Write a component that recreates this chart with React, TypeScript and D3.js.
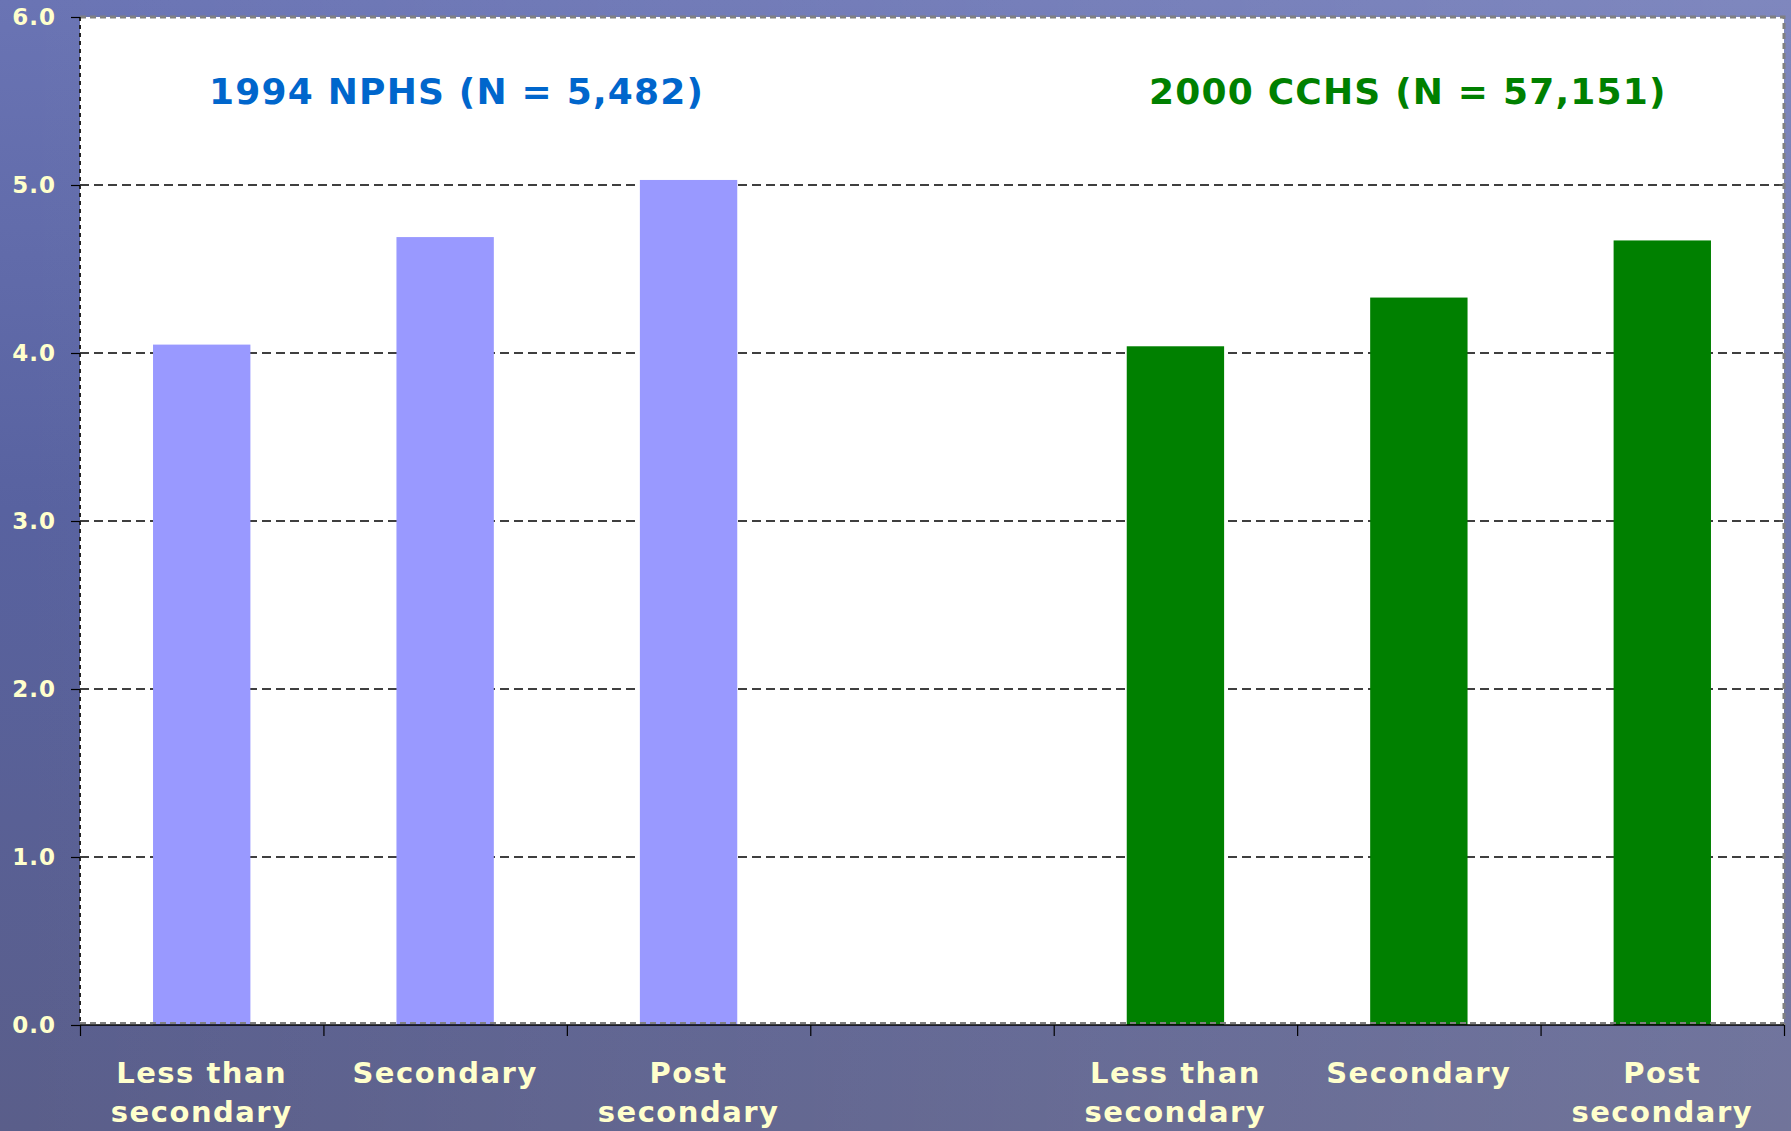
import React, { useEffect, useRef } from 'react';
import * as d3 from 'd3';

// Education levels (x categories), one group per survey
const educationLevels = ['Less than\nsecondary', 'Secondary', 'Post\nsecondary'];

// Mean values
const nphs1994 = [4.05, 4.69, 5.03];
const cchs2000 = [4.04, 4.33, 4.67];

const yTicks = [0, 1, 2, 3, 4, 5, 6];

const nphsTitle = '1994 NPHS (N = 5,482)';
const cchsTitle = '2000 CCHS (N = 57,151)';

const WIDTH = 1791;
const HEIGHT = 1131;

const App: React.FC = () => {
  const svgRef = useRef<SVGSVGElement>(null);

  useEffect(() => {
    if (!svgRef.current) return;
    const svg = d3.select(svgRef.current);
    svg.selectAll('*').remove();

    const margin = { top: 17, right: 7, bottom: 106, left: 80 };
    const x0 = margin.left;
    const x1 = WIDTH - margin.right;
    const y0 = HEIGHT - margin.bottom;
    const y1 = margin.top;

    // categories: 3 NPHS, one empty gap, 3 CCHS
    const rows = [
      ...educationLevels.map((label, i) => ({ key: `nphs-${i}`, label, value: nphs1994[i], color: '#9999FF' })),
      { key: 'gap', label: '', value: null as number | null, color: 'none' },
      ...educationLevels.map((label, i) => ({ key: `cchs-${i}`, label, value: cchs2000[i], color: '#008000' })),
    ];

    const xScale = d3.scaleBand().domain(rows.map(r => r.key)).range([x0, x1]).padding(0);
    const xEdges = d3.scaleLinear().domain([0, rows.length]).range([x0, x1]);
    const yScale = d3.scaleLinear().domain([0, 6]).range([y0, y1]);

    // Background
    const defs = svg.append('defs');
    const bgV = defs.append('linearGradient').attr('id', 'bgV').attr('x1', 0).attr('y1', 0).attr('x2', 0).attr('y2', 1);
    bgV.append('stop').attr('offset', '0%').attr('stop-color', '#6A74B4');
    bgV.append('stop').attr('offset', '45%').attr('stop-color', '#5862A0');
    bgV.append('stop').attr('offset', '100%').attr('stop-color', '#5A5E8A');
    const bgH = defs.append('linearGradient').attr('id', 'bgH').attr('x1', 0).attr('y1', 0).attr('x2', 1).attr('y2', 0);
    bgH.append('stop').attr('offset', '0%').attr('stop-color', '#ffffff').attr('stop-opacity', 0);
    bgH.append('stop').attr('offset', '100%').attr('stop-color', '#ffffff').attr('stop-opacity', 0.14);

    svg.append('rect').attr('width', WIDTH).attr('height', HEIGHT).attr('fill', 'url(#bgV)');
    svg.append('rect').attr('width', WIDTH).attr('height', HEIGHT).attr('fill', 'url(#bgH)');

    // Plot area
    svg.append('rect')
      .attr('x', x0).attr('y', y1)
      .attr('width', x1 - x0).attr('height', y0 - y1)
      .attr('fill', '#ffffff');

    // Grid lines
    svg.append('g')
      .selectAll('line')
      .data(yTicks.filter(t => t > 0 && t < 6))
      .join('line')
      .attr('x1', x0).attr('x2', x1)
      .attr('y1', d => yScale(d)).attr('y2', d => yScale(d))
      .attr('stroke', '#000')
      .attr('stroke-width', 1.4)
      .attr('stroke-dasharray', '9,5');

    // Bars
    const barWidth = xScale.bandwidth() * 0.4;
    svg.append('g')
      .selectAll('rect')
      .data(rows.filter(r => r.value !== null))
      .join('rect')
      .attr('x', d => (xScale(d.key) || 0) + (xScale.bandwidth() - barWidth) / 2)
      .attr('y', d => yScale(d.value as number))
      .attr('width', barWidth)
      .attr('height', d => y0 - yScale(d.value as number))
      .attr('fill', d => d.color);

    // Plot border (gray dashed top/right/bottom)
    svg.append('path')
      .attr('d', `M${x0},${y1}H${x1}V${y0}`)
      .attr('fill', 'none')
      .attr('stroke', '#808080')
      .attr('stroke-width', 3)
      .attr('stroke-dasharray', '6,4');
    svg.append('line')
      .attr('x1', x0).attr('x2', x1).attr('y1', y0 - 2).attr('y2', y0 - 2)
      .attr('stroke', '#808080').attr('stroke-width', 2).attr('stroke-dasharray', '6,4');

    // Left axis line (dark dashed)
    svg.append('line')
      .attr('x1', x0).attr('x2', x0).attr('y1', y1).attr('y2', y0)
      .attr('stroke', '#222').attr('stroke-width', 2).attr('stroke-dasharray', '4,4');

    // Y axis ticks and labels
    const yAxis = svg.append('g')
      .attr('transform', `translate(${x0},0)`)
      .call(d3.axisLeft(yScale).tickValues(yTicks).tickSize(9).tickPadding(15).tickFormat(d3.format('.1f')));
    yAxis.select('.domain').remove();
    yAxis.selectAll('line').attr('stroke', '#000').attr('stroke-width', 1.2);
    yAxis.selectAll('text')
      .attr('fill', '#FFFFCC')
      .style('font-family', 'DejaVu Sans, Verdana, sans-serif')
      .style('font-size', '23px')
      .style('font-weight', '700')
      .style('letter-spacing', '1px');

    // X axis baseline and boundary ticks
    svg.append('line')
      .attr('x1', x0).attr('x2', x1).attr('y1', y0).attr('y2', y0)
      .attr('stroke', '#000').attr('stroke-width', 1.5);
    const xAxis = svg.append('g')
      .attr('transform', `translate(0,${y0})`)
      .call(d3.axisBottom(xEdges).tickValues(d3.range(rows.length + 1)).tickSize(11).tickFormat(() => ''));
    xAxis.select('.domain').remove();
    xAxis.selectAll('line').attr('stroke', '#000').attr('stroke-width', 1.2);

    // X category labels
    const labels = svg.append('g')
      .selectAll('text')
      .data(rows.filter(r => r.label))
      .join('text')
      .attr('x', d => (xScale(d.key) || 0) + xScale.bandwidth() / 2)
      .attr('y', y0 + 58)
      .attr('text-anchor', 'middle')
      .attr('fill', '#FFFFCC')
      .style('font-family', 'DejaVu Sans, Verdana, sans-serif')
      .style('font-size', '29px')
      .style('font-weight', '700')
      .style('letter-spacing', '1.5px');
    labels.each(function (d) {
      const t = d3.select(this);
      d.label.split('\n').forEach((line, i) => {
        t.append('tspan')
          .attr('x', (xScale(d.key) || 0) + xScale.bandwidth() / 2)
          .attr('dy', i === 0 ? 0 : 39)
          .text(line);
      });
    });

    // Group titles
    const titles = [
      { text: nphsTitle, x: 209, color: '#0066CC' },
      { text: cchsTitle, x: 1149, color: '#008000' },
    ];
    svg.append('g')
      .selectAll('text')
      .data(titles)
      .join('text')
      .attr('x', d => d.x)
      .attr('y', 104)
      .attr('fill', d => d.color)
      .style('font-family', 'DejaVu Sans, Verdana, sans-serif')
      .style('font-size', '36px')
      .style('font-weight', '700')
      .style('letter-spacing', '1.2px')
      .text(d => d.text);
  }, []);

  return (
    <svg
      ref={svgRef}
      width={WIDTH}
      height={HEIGHT}
      style={{ position: 'absolute', left: 0, top: 0, display: 'block' }}
    ></svg>
  );
};

export default App;
